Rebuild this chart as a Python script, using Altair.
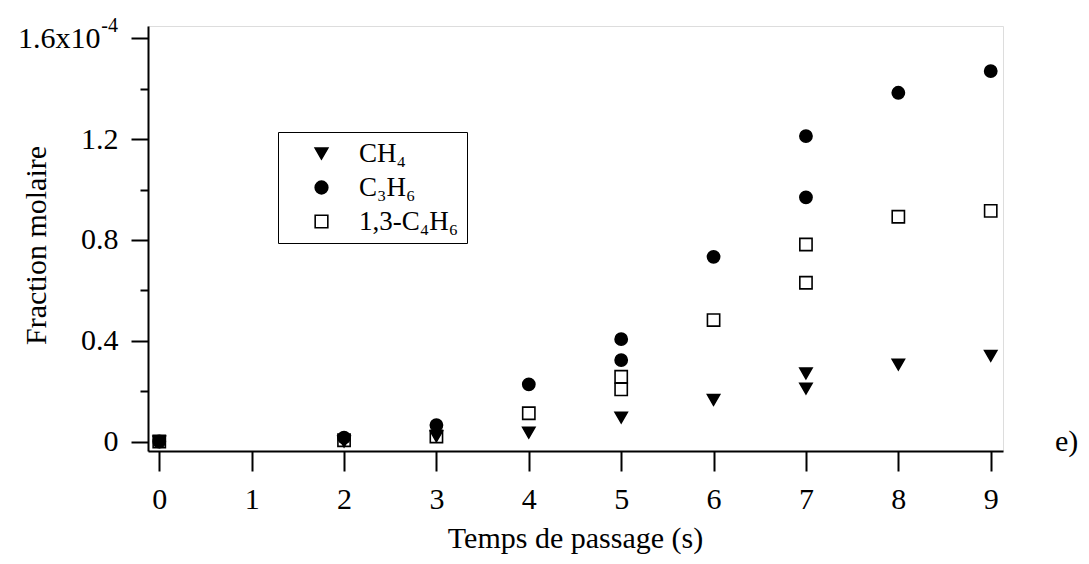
import altair as alt
import pandas as pd

# values are in units of 1e-4 (mole fraction)
species = ["CH₄", "C₃H₆", "1,3-C₄H₆"]
ch4_x = [0, 2, 3, 4, 5, 6, 7, 7, 8, 9]
ch4_y = [0.0, 0.0, 0.02, 0.035, 0.095, 0.165, 0.27, 0.21, 0.305, 0.34]
c3h6_x = [0, 2, 3, 4, 5, 5, 6, 7, 7, 8, 9]
c3h6_y = [0.0, 0.015, 0.065, 0.227, 0.406, 0.323, 0.733, 1.212, 0.969, 1.384, 1.47]
c4h6_x = [0, 2, 3, 4, 5, 5, 6, 7, 7, 8, 9]
c4h6_y = [0.0, 0.005, 0.02, 0.112, 0.257, 0.207, 0.482, 0.782, 0.63, 0.892, 0.915]
x_ticks = [0, 1, 2, 3, 4, 5, 6, 7, 8, 9]
y_ticks = [0.0, 0.1, 0.2, 0.3, 0.4, 0.5, 0.6, 0.7, 0.8, 0.9, 1.0, 1.1, 1.2, 1.3, 1.4, 1.5, 1.6]
x_domain = [-0.122, 9.133]
y_domain = [-0.0377, 1.649]

rows = []
for xs, ys, name in [(c4h6_x, c4h6_y, species[2]), (ch4_x, ch4_y, species[0]), (c3h6_x, c3h6_y, species[1])]:
    for xv, yv in zip(xs, ys):
        rows.append({"t": xv, "f": yv, "s": name})
df = pd.DataFrame(rows)

FONT = "Liberation Serif"

x_enc = alt.X("t:Q", scale=alt.Scale(domain=x_domain, nice=False, zero=False),
              axis=alt.Axis(values=x_ticks, format="d", title="Temps de passage (s)", tickSize=20, tickWidth=2,
                            tickColor="black", domainColor="black", domainWidth=2, labelPadding=13,
                            labelFontSize=30, labelFont=FONT, labelColor="black", labelFlush=False,
                            titleFont=FONT, titleFontSize=30, titleFontWeight="normal", titleColor="black",
                            titleX=427, titleY=96, titleBaseline="alphabetic", grid=False, labelOverlap=False))
y_enc = alt.Y("f:Q", scale=alt.Scale(domain=y_domain, nice=False, zero=False),
              axis=alt.Axis(values=y_ticks, title="Fraction molaire",
                            tickSize={"condition": {"test": "round(datum.value*10) % 4 == 0", "value": 17}, "value": 8},
                            labelPadding={"condition": {"test": "datum.value > 1.55", "value": 31}, "value": 13},
                            labelExpr="round(datum.value*10) % 4 != 0 ? '' : (datum.value > 1.55 ? '1.6x10' : (datum.value == 0 ? '0' : format(datum.value, '.1f')))",
                            tickWidth=2, tickColor="black", domainColor="black", domainWidth=2,
                            labelFontSize=30, labelFont=FONT, labelColor="black", labelFlush=False,
                            titleFont=FONT, titleFontSize=30, titleFontWeight="normal", titleColor="black",
                            titleX=-103, titleY=219, titleAngle=270, titleBaseline="alphabetic",
                            grid=False, labelOverlap=False))

leg = dict(title=None, orient="none", legendX=130, legendY=106,
           strokeColor="black", fillColor="white", padding=8,
           symbolOffset=22, symbolSize=160, symbolStrokeWidth=1.6,
           labelFont=FONT, labelFontSize=27, labelColor="black", labelOffset=24, rowPadding=6)

points = alt.Chart(df).mark_point(size=150, opacity=1, strokeWidth=1.6).encode(
    x=x_enc, y=y_enc,
    shape=alt.Shape("s:N", scale=alt.Scale(domain=species, range=["triangle-down", "circle", "square"]),
                    legend=alt.Legend(**leg)),
    fill=alt.Fill("s:N", scale=alt.Scale(domain=species, range=["black", "black", "transparent"]),
                  legend=alt.Legend(**leg)),
    stroke=alt.Stroke("s:N", scale=alt.Scale(domain=species, range=["black", "black", "black"]),
                      legend=alt.Legend(**leg)),
)

sup = alt.Chart(pd.DataFrame({"a": [0]})).mark_text(
    text="-4", font=FONT, fontSize=20, align="right", baseline="middle", dx=-30, dy=-12, color="black"
).encode(x=alt.datum(x_domain[0]), y=alt.datum(y_ticks[-1]))

tag = alt.Chart(pd.DataFrame({"a": [0]})).mark_text(
    text="e)", font=FONT, fontSize=30, align="left", baseline="middle", dx=52, color="black"
).encode(x=alt.datum(x_domain[1]), y=alt.datum(y_ticks[0]))

chart = alt.layer(points, sup, tag).properties(
    width=855, height=425,
    autosize=alt.AutoSizeParams(type="none"),
    padding={"left": 140, "top": 18, "right": 78, "bottom": 104},
).configure_view(stroke="black", strokeWidth=2).configure(background="white")

chart.save("out.html", embed_options={"renderer": "svg", "actions": False})
